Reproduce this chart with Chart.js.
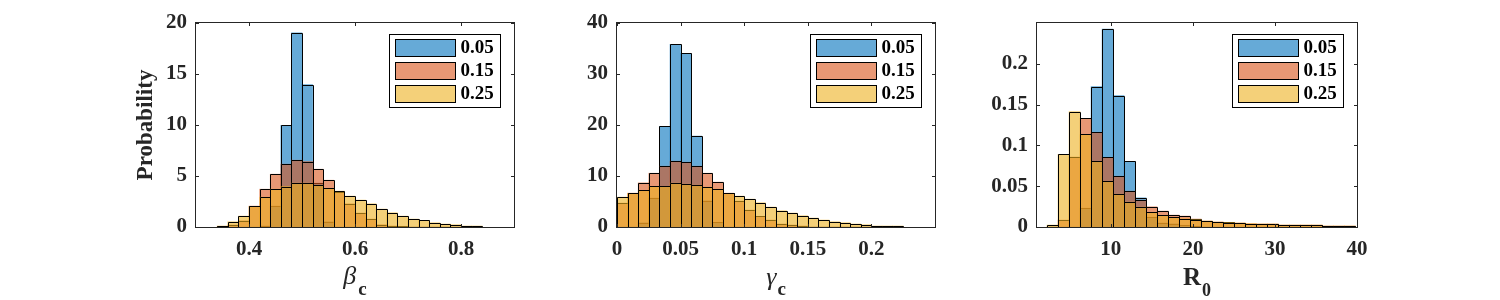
<!DOCTYPE html>
<html><head><meta charset="utf-8">
<script src="https://cdn.jsdelivr.net/npm/chart.js@4.4.1/dist/chart.umd.min.js"></script>
<style>
html,body{margin:0;padding:0;background:#fff;}
#wrap{position:relative;width:1500px;height:300px;background:#fff;}
#wrap canvas{position:absolute;left:0;top:0;}
</style></head><body>
<div id="wrap">
<canvas id="c1" width="1500" height="300"></canvas>
<canvas id="c2" width="1500" height="300"></canvas>
<canvas id="c3" width="1500" height="300"></canvas>
</div>
<script>
// ---------- data ----------
const seriesLabels = ['0.05', '0.15', '0.25'];

// Panel 1: beta_c (bin width 0.02)
const betaCenters = [0.35,0.37,0.39,0.41,0.43,0.45,0.47,0.49,0.51,0.53,0.55,0.57,0.59,0.61,0.63,0.65,0.67,0.69,0.71,0.73,0.75,0.77,0.79,0.81,0.83];
const beta005 = [0,0,0,0,0.1,2.05,9.97,19.05,13.97,4.3,0.52,0,0,0,0,0,0,0,0,0,0,0,0,0,0];
const beta015 = [0.05,0.2,0.62,2.05,3.71,5.18,6.16,6.55,6.42,5.67,4.59,3.39,2.28,1.37,0.78,0.23,0.1,0.05,0,0,0,0,0,0,0];
const beta025 = [0.1,0.52,1.07,2.03,2.93,3.71,3.97,4.3,4.3,4.1,3.78,3.52,3.03,2.64,2.28,1.76,1.4,1.07,0.78,0.65,0.42,0.29,0.23,0.1,0.1];
const betaXTicks = [0.4, 0.6, 0.8];
const betaXLabels = ['0.4', '0.6', '0.8'];
const betaYTicks = [0, 5, 10, 15, 20];
const betaYLabels = ['0', '5', '10', '15', '20'];

// Panel 2: gamma_c (bin width 1/120)
const gammaCenters = [0.00417,0.0125,0.02083,0.02917,0.0375,0.04583,0.05417,0.0625,0.07083,0.07917,0.0875,0.09583,0.10417,0.1125,0.12083,0.12917,0.1375,0.14583,0.15417,0.1625,0.17083,0.17917,0.1875,0.19583,0.20417,0.2125,0.22083];
const gamma005 = [0,0,0.85,5.67,19.74,35.83,34.07,17.85,5.15,0.9,0,0,0,0,0,0,0,0,0,0,0,0,0,0,0,0,0];
const gamma015 = [4.69,6.64,8.66,10.55,11.92,12.9,12.7,11.92,10.55,8.8,6.64,5.08,3.32,2.08,1.37,0.59,0.39,0.2,0,0,0,0,0,0,0,0,0];
const gamma025 = [5.86,6.6,7.17,7.95,7.95,8.6,8.4,8.2,7.82,7.43,6.6,6.06,5.47,4.76,3.91,3.19,2.74,2.21,1.76,1.37,1.04,0.85,0.59,0.46,0.2,0.2,0.2];
const gammaXTicks = [0, 0.05, 0.1, 0.15, 0.2];
const gammaXLabels = ['0', '0.05', '0.1', '0.15', '0.2'];
const gammaYTicks = [0, 10, 20, 30, 40];
const gammaYLabels = ['0', '10', '20', '30', '40'];

// Panel 3: R0 (bin width ~1.342)
const r0Centers = [2.891,4.233,5.575,6.917,8.259,9.601,10.943,12.285,13.627,14.969,16.311,17.653,18.995,20.337,21.679,23.021,24.363,25.705,27.047,28.389,29.731,31.073,32.415,33.757,35.099,36.441,37.783,39.125];
const r0005 = [0,0,0,0.023,0.172,0.2427,0.161,0.0805,0.0358,0.012,0.005,0.004,0.002,0.001,0,0,0,0,0,0,0,0,0,0,0,0,0,0];
const r0015 = [0,0.0085,0.0858,0.1333,0.1159,0.0854,0.0622,0.0439,0.0329,0.0248,0.0195,0.0146,0.0134,0.0098,0.0073,0.0061,0.0057,0.0049,0.0041,0.0037,0.0037,0.0024,0.0024,0.0024,0.0024,0.0012,0.0012,0.0012];
const r0025 = [0.0024,0.089,0.1415,0.1134,0.0805,0.0561,0.0402,0.0305,0.0244,0.0179,0.0142,0.0118,0.0102,0.009,0.0073,0.0061,0.0055,0.0049,0.0041,0.0037,0.0037,0.0024,0.0024,0.0024,0.0024,0.0012,0.0012,0.0012];
const r0XTicks = [10, 20, 30, 40];
const r0XLabels = ['10', '20', '30', '40'];
const r0YTicks = [0, 0.05, 0.1, 0.15, 0.2];
const r0YLabels = ['0', '0.05', '0.1', '0.15', '0.2'];

// ---------- styling ----------
const colors = ['rgba(0,114,189,0.6)', 'rgba(217,83,25,0.6)', 'rgba(237,177,32,0.6)'];
const axisColor = '#262626';
const FAM = '"Liberation Serif", "Times New Roman", serif';

const framePlugin = {
  id: 'frame',
  // outline each series' bars right after that series is drawn (so later, translucent series cover them)
  afterDatasetDraw(chart, args) {
    const ctx = chart.ctx;
    ctx.save();
    ctx.strokeStyle = '#000';
    ctx.lineWidth = 1;
    ctx.beginPath();
    args.meta.data.forEach(el => {
      const pr = el.getProps(['x', 'y', 'base', 'width'], true);
      if (Math.abs(pr.base - pr.y) < 0.5) return;
      const l = Math.round(pr.x - pr.width / 2) + 0.5;
      const r = Math.round(pr.x + pr.width / 2) + 0.5;
      const t = Math.round(pr.y) + 0.5;
      const b = pr.base;
      ctx.moveTo(l, b); ctx.lineTo(l, t); ctx.lineTo(r, t); ctx.lineTo(r, b);
    });
    ctx.stroke();
    ctx.restore();
  },
  afterDatasetsDraw(chart, args, opts) {
    const {ctx, chartArea: a} = chart;
    const x = chart.scales.x, y = chart.scales.y;
    ctx.save();
    ctx.strokeStyle = axisColor;
    ctx.lineWidth = 1;
    const L = Math.round(a.left) - 0.5, R = Math.round(a.right) + 0.5;
    const T = Math.round(a.top) - 0.5, B = Math.round(a.bottom) + 0.5;
    ctx.strokeRect(L, T, R - L, B - T);
    const tl = 3.5;
    ctx.beginPath();
    x.ticks.forEach(t => {
      const px = Math.round(x.getPixelForValue(t.value)) + 0.5;
      ctx.moveTo(px, B); ctx.lineTo(px, B - tl);
      ctx.moveTo(px, T); ctx.lineTo(px, T + tl);
    });
    y.ticks.forEach(t => {
      const py = Math.round(y.getPixelForValue(t.value)) + 0.5;
      ctx.moveTo(L, py); ctx.lineTo(L + tl, py);
      ctx.moveTo(R, py); ctx.lineTo(R - tl, py);
    });
    ctx.stroke();

    // legend inside the axes (top-right)
    const bw = 111, bh = 73;
    const bx = Math.round(a.right - 14 - bw) + 0.5, by = Math.round(a.top + 11) + 0.5;
    ctx.fillStyle = '#fff';
    ctx.fillRect(bx, by, bw, bh);
    ctx.strokeStyle = '#000';
    ctx.strokeRect(bx, by, bw, bh);
    chart.data.datasets.forEach((ds, i) => {
      const sy = by + 5 + i * 23;
      ctx.fillStyle = ds.backgroundColor;
      ctx.fillRect(bx + 6, sy, 60, 17);
      ctx.strokeStyle = '#000';
      ctx.strokeRect(bx + 6, sy, 60, 17);
      ctx.fillStyle = '#000';
      ctx.font = 'bold 19px ' + FAM;
      ctx.textBaseline = 'middle';
      ctx.textAlign = 'left';
      ctx.fillText(ds.label, bx + 71, sy + 9);
    });

    // x title (main symbol + subscript)
    const parts = opts.xTitle;
    ctx.textBaseline = 'alphabetic';
    ctx.textAlign = 'left';
    ctx.fillStyle = axisColor;
    let total = 0;
    const widths = parts.map(p => { ctx.font = p.font; const w = ctx.measureText(p.text).width; total += w + (p.gap || 0); return w; });
    let cx = (a.left + a.right) / 2 - total / 2;
    parts.forEach((p, i) => {
      cx += (p.gap || 0);
      ctx.font = p.font;
      ctx.fillText(p.text, cx, p.baseline);
      cx += widths[i];
    });

    // y title
    if (opts.yTitle) {
      ctx.save();
      ctx.translate(opts.yTitle.x, (a.top + a.bottom) / 2);
      ctx.rotate(-Math.PI / 2);
      ctx.font = 'bold 23px ' + FAM;
      ctx.textAlign = 'center';
      ctx.textBaseline = 'middle';
      ctx.fillText(opts.yTitle.text, 0, 0);
      ctx.restore();
    }
    ctx.restore();
  }
};

function makeChart(id, p) {
  const mk = (vals, i) => ({
    label: seriesLabels[i],
    data: p.centers.map((c, k) => ({x: c, y: vals[k]})),
    backgroundColor: colors[i],
    order: 3 - i
  });
  const tickFont = {family: FAM, size: 21, weight: 'bold'};
  return new Chart(document.getElementById(id), {
    type: 'bar',
    data: {datasets: [mk(p.s[0], 0), mk(p.s[1], 1), mk(p.s[2], 2)]},
    plugins: [framePlugin],
    options: {
      responsive: false,
      animation: false,
      devicePixelRatio: 1,
      layout: {padding: {left: p.left - 60, right: 1500 - p.right, top: 23, bottom: 0}},
      datasets: {bar: {grouped: false, barPercentage: 1, categoryPercentage: 1, inflateAmount: 0.3,
        borderWidth: 0}},
      plugins: {
        legend: {display: false},
        tooltip: {enabled: false},
        frame: {xTitle: p.xTitle, yTitle: p.yTitle}
      },
      scales: {
        x: {
          type: 'linear', min: p.xmin, max: p.xmax, offset: false,
          grid: {display: false, drawTicks: false}, border: {display: false},
          ticks: {autoSkip: false, maxRotation: 0, minRotation: 0, padding: 10, font: tickFont, color: axisColor,
            callback: (v, i) => p.xLabels[i]},
          afterBuildTicks: s => { s.ticks = p.xTicks.map(v => ({value: v})); },
          afterFit: s => { s.height = 73; s.paddingLeft = 0; s.paddingRight = 0; }
        },
        y: {
          type: 'linear', min: 0, max: p.ymax,
          grid: {display: false, drawTicks: false}, border: {display: false},
          ticks: {autoSkip: false, padding: 9, font: tickFont, color: axisColor,
            callback: (v, i) => p.yLabels[i]},
          afterBuildTicks: s => { s.ticks = p.yTicks.map(v => ({value: v})); },
          afterFit: s => { s.width = 60; s.paddingTop = 0; s.paddingBottom = 0; }
        }
      }
    }
  });
}

makeChart('c1', {
  centers: betaCenters, s: [beta005, beta015, beta025],
  left: 196, right: 514, xmin: 0.3, xmax: 0.9, ymax: 20,
  xTicks: betaXTicks, xLabels: betaXLabels, yTicks: betaYTicks, yLabels: betaYLabels,
  xTitle: [{text: 'β', font: 'italic 26px ' + FAM, baseline: 284},
           {text: 'c', font: 'bold 19px ' + FAM, baseline: 295, gap: 2}],
  yTitle: {text: 'Probability', x: 146.5}
});
makeChart('c2', {
  centers: gammaCenters, s: [gamma005, gamma015, gamma025],
  left: 617, right: 935, xmin: 0, xmax: 0.25, ymax: 40,
  xTicks: gammaXTicks, xLabels: gammaXLabels, yTicks: gammaYTicks, yLabels: gammaYLabels,
  xTitle: [{text: 'γ', font: 'italic 26px ' + FAM, baseline: 285},
           {text: 'c', font: 'bold 19px ' + FAM, baseline: 295, gap: 1}]
});
makeChart('c3', {
  centers: r0Centers, s: [r0005, r0015, r0025],
  left: 1037, right: 1357, xmin: 1, xmax: 40, ymax: 0.25,
  xTicks: r0XTicks, xLabels: r0XLabels, yTicks: r0YTicks, yLabels: r0YLabels,
  xTitle: [{text: 'R', font: 'bold 25px ' + FAM, baseline: 285},
           {text: '0', font: 'bold 18px ' + FAM, baseline: 295.5, gap: 1}]
});
</script>
</body></html>
